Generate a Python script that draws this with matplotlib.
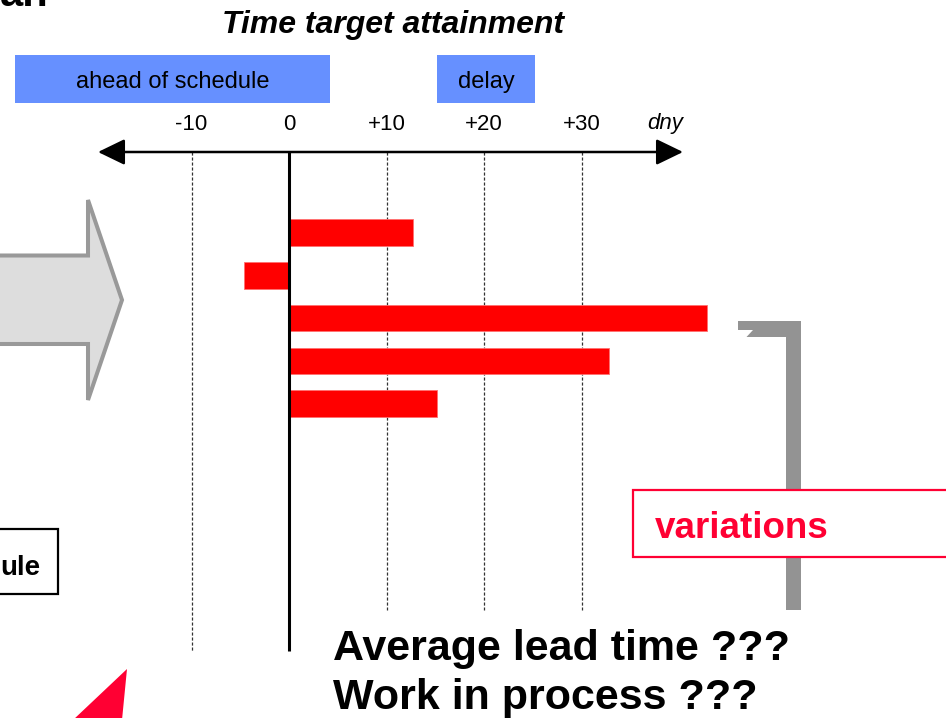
import matplotlib
matplotlib.use("Agg")
import matplotlib.pyplot as plt
from matplotlib.patches import Polygon, Rectangle

plt.rcParams["font.family"] = ["Liberation Sans", "DejaVu Sans"]

# deviation from the planned finish date, in days (one bar per order)
orders = ["A", "B", "C", "D", "E"]
deviation_days = [12.7, -4.6, 42.9, 32.8, 15.2]

tick_days = [-10, 0, 10, 20, 30]
tick_labels = ["-10", "0", "+10", "+20", "+30"]

# layout in pixels of the 946x718 slide
W, H = 946, 718
ZERO_PX = 289
PX_PER_DAY = 9.75
ROW0_PX = 232.5
ROW_PX = 42.8
AXIS_PX = 152

RED = "#ff0000"
ALERT = "#ff0033"
BLUE = "#6690ff"
GREY = "#939393"


def day(px):
    return (px - ZERO_PX) / PX_PER_DAY


def row(py):
    return (py - ROW0_PX) / ROW_PX


fig = plt.figure(figsize=(W / 100, H / 100), dpi=100)

# background layer in pixel coordinates for the slide decorations
bg = fig.add_axes([0, 0, 1, 1])
bg.set_xlim(0, W)
bg.set_ylim(H, 0)
bg.axis("off")

# grey block arrow on the left, cut by the slide edge
bg.add_patch(Polygon([(-20, 255.5), (88, 255.5), (88, 200), (122, 300),
                      (88, 400), (88, 344), (-20, 344)],
                     closed=True, facecolor="#dddddd", edgecolor="#999999", lw=2.9))
# red corner of a shape at the bottom
bg.add_patch(Polygon([(73, 720), (127, 669), (122, 720)], closed=True,
                     facecolor=ALERT, edgecolor="none"))
# box with cut-off label
bg.add_patch(Rectangle((-10, 529), 68, 65, facecolor="white", edgecolor="black", lw=1.6))
bg.text(0, 575, "ule", ha="left", va="baseline", fontsize=20, fontweight="bold")
bg.text(0, 6, "an", ha="left", va="baseline", fontsize=30, fontweight="bold")

# title and category boxes
bg.text(392.5, 33, "Time target attainment", ha="center", va="baseline",
        fontsize=23, fontweight="bold", fontstyle="italic")
bg.add_patch(Rectangle((15, 55), 315, 48, facecolor=BLUE, edgecolor="none"))
bg.text(172.5, 88, "ahead of schedule", ha="center", va="baseline", fontsize=17)
bg.add_patch(Rectangle((437, 55), 98, 48, facecolor=BLUE, edgecolor="none"))
bg.text(486, 88, "delay", ha="center", va="baseline", fontsize=17)

# grey bracket and the variations label
bg.add_patch(Polygon([(738, 321), (801, 321), (801, 610), (786, 610), (786, 337),
                      (746.5, 337), (753, 330), (738, 330)],
                     closed=True, facecolor=GREY, edgecolor="none"))
bg.add_patch(Rectangle((633, 490), 330, 67, facecolor="white", edgecolor=ALERT, lw=1.6))
bg.text(655, 538, "variations", ha="left", va="baseline", fontsize=26.5,
        fontweight="bold", color=ALERT)

bg.text(333, 660, "Average lead time ???", ha="left", va="baseline",
        fontsize=31, fontweight="bold")
bg.text(333, 709, "Work in process ???", ha="left", va="baseline",
        fontsize=31, fontweight="bold")

# chart axes: x in days, y in order rows
L, R, T, B = 80, 720, 110, 670
ax = fig.add_axes([L / W, 1 - B / H, (R - L) / W, (B - T) / H])
ax.set_xlim(day(L), day(R))
ax.set_ylim(row(B), row(T))
ax.patch.set_alpha(0)
ax.axis("off")

ax.barh(range(len(orders)), deviation_days, height=0.62, color=RED,
        edgecolor="#ff7070", lw=0.6, zorder=2)

axis_y = row(AXIS_PX)
for d in tick_days:
    if d == 0:
        ax.vlines(d, axis_y, row(651), color="black", lw=2.2, zorder=3)
    else:
        end = row(651) if d < 0 else row(610)
        ax.vlines(d, axis_y, end, color="#333333", lw=0.9, linestyles=(0, (2.5, 1.5)),
                  zorder=1)

for d, lab in zip(tick_days, tick_labels):
    ax.text(d, row(129.5), lab, ha="center", va="baseline", fontsize=16, clip_on=False)
ax.text(day(647), row(129), "dny", ha="left", va="baseline", fontsize=16,
        fontstyle="italic", clip_on=False)

ax.annotate("", xy=(day(683), axis_y), xytext=(day(98), axis_y),
            arrowprops=dict(arrowstyle="<|-|>,head_length=1.65,head_width=0.8",
                            mutation_scale=10, lw=1.8, color="black",
                            shrinkA=0, shrinkB=0), zorder=4)

fig.savefig("out.png", dpi=100)
plt.close(fig)
